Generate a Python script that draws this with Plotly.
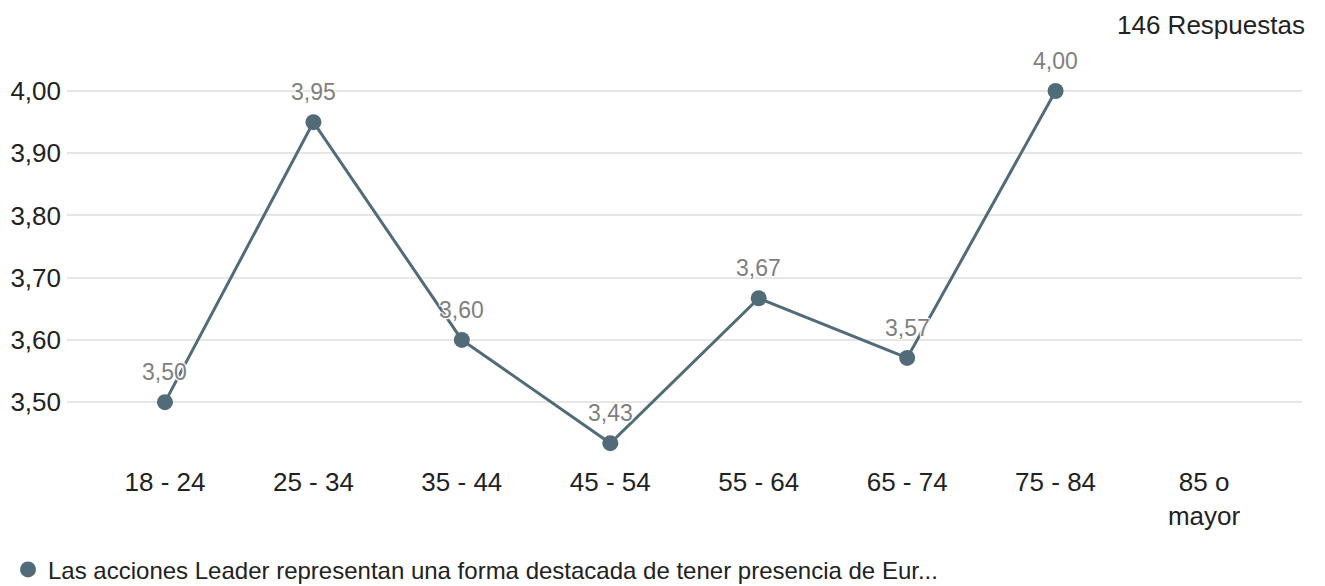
import plotly.graph_objects as go

# age groups and mean scores
categories = ["18 - 24", "25 - 34", "35 - 44", "45 - 54", "55 - 64", "65 - 74", "75 - 84", "85 o<br>mayor"]
scores = [3.50, 3.95, 3.60, 3.434, 3.667, 3.571, 4.00, None]
labels = ["3,50", "3,95", "3,60", "3,43", "3,67", "3,57", "4,00", ""]
series_name = "Las acciones Leader representan una forma destacada de tener presencia de Eur..."
responses = "146 Respuestas"

line_color = "#526b78"
font = "Liberation Sans, Arial, sans-serif"
halo = "1px 1px 1px #fff, -1px -1px 1px #fff, 1px -1px 1px #fff, -1px 1px 1px #fff, 0 0 3px #fff"

fig = go.Figure()

fig.add_trace(go.Scatter(
    x=categories,
    y=scores,
    mode="lines+markers",
    line=dict(color=line_color, width=3),
    marker=dict(color=line_color, size=16),
    showlegend=False,
    cliponaxis=False,
))

# value labels above each point
for cat, val, lab in zip(categories, scores, labels):
    if val is None:
        continue
    fig.add_annotation(
        x=cat, y=val, text=lab, showarrow=False, yshift=30,
        font=dict(size=23, color="#7f7f7f", family=font, shadow=halo),
    )

# legend entry shows only the dot
fig.add_trace(go.Scatter(
    x=[None], y=[None], mode="markers", name=series_name,
    marker=dict(color=line_color, size=18),
))

fig.add_annotation(
    text=responses, xref="paper", yref="paper", x=1.004, y=1.036,
    xanchor="right", yanchor="middle", showarrow=False,
    font=dict(size=26, color="#222", family=font),
)

# page body has an 8px margin, so the figure is sized to fit inside it
fig.update_layout(
    width=1317, height=578,
    margin=dict(l=59, r=23, t=32, b=126),
    plot_bgcolor="white", paper_bgcolor="white",
    separators=",.",
    font=dict(family=font, size=26, color="#222"),
    legend=dict(orientation="h", xref="container", yref="container",
                x=0.0, y=0.028, xanchor="left", yanchor="middle",
                font=dict(size=24, color="#222"), itemwidth=30),
)
fig.update_xaxes(
    range=[-0.66, 7.66], showgrid=False, zeroline=False, showline=False,
    ticks="", ticklabelstandoff=4, automargin=False,
    tickfont=dict(size=26, color="#222"),
)
fig.update_yaxes(
    range=[3.407, 4.082], tickvals=[3.5, 3.6, 3.7, 3.8, 3.9, 4.0], tickformat=".2f",
    showgrid=True, gridcolor="#e6e6e6", gridwidth=2, zeroline=False, showline=False,
    ticks="", ticklabelstandoff=5, automargin=False, tickfont=dict(size=26, color="#222"),
)

fig.write_html("out.html")
